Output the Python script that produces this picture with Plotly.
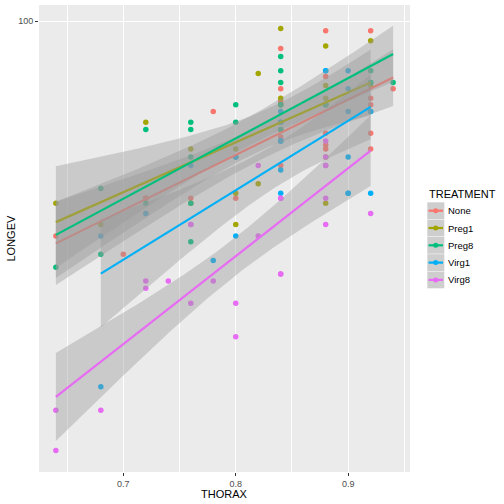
import numpy as np
import plotly.graph_objects as go

treatments = ["None", "Preg1", "Preg8", "Virg1", "Virg8"]
colors = ["#F8766D", "#A3A500", "#00BF7D", "#00B0F6", "#E76BF3"]

none_thorax = [0.64, 0.70, 0.72, 0.72, 0.72, 0.72, 0.76, 0.78, 0.80, 0.84, 0.84, 0.84, 0.84, 0.84,
               0.88, 0.88, 0.88, 0.88, 0.88, 0.92, 0.92, 0.92, 0.92, 0.92, 0.94]
none_longev = [40, 37, 44, 47, 47, 47, 47, 68, 47, 54, 61, 71, 75, 89,
               58, 59, 62, 79, 96, 58, 62, 70, 72, 96, 75]

preg1_thorax = [0.64, 0.68, 0.72, 0.76, 0.76, 0.80, 0.80, 0.80, 0.82, 0.82, 0.84, 0.84, 0.84, 0.84, 0.84, 0.84,
                0.88, 0.88, 0.88, 0.88, 0.88, 0.88, 0.88, 0.92, 0.92]
preg1_longev = [46, 42, 65, 46, 58, 42, 48, 58, 50, 80, 63, 65, 70, 70, 72, 97,
                46, 56, 70, 70, 72, 76, 90, 76, 92]

preg8_thorax = [0.64, 0.68, 0.68, 0.72, 0.72, 0.76, 0.76, 0.76, 0.76, 0.76, 0.80, 0.80, 0.80,
                0.84, 0.84, 0.84, 0.84, 0.84, 0.84, 0.88, 0.88, 0.92, 0.92, 0.92, 0.94]
preg8_longev = [35, 37, 49, 46, 63, 39, 46, 56, 63, 65, 56, 65, 70,
                63, 65, 70, 77, 81, 86, 70, 70, 77, 77, 81, 77]

virg1_thorax = [0.68, 0.68, 0.72, 0.76, 0.78, 0.80, 0.80, 0.84, 0.84, 0.84, 0.84, 0.84, 0.84, 0.84,
                0.88, 0.88, 0.90, 0.90, 0.90, 0.90, 0.90, 0.90, 0.92, 0.92, 0.92]
virg1_longev = [21, 40, 44, 54, 36, 40, 56, 48, 53, 60, 60, 65, 68, 60,
                81, 81, 48, 56, 68, 75, 81, 48, 48, 68, 68]

virg8_thorax = [0.64, 0.64, 0.68, 0.72, 0.72, 0.74, 0.76, 0.76, 0.76, 0.78, 0.80, 0.80, 0.82, 0.82,
                0.84, 0.84, 0.84, 0.84, 0.88, 0.88, 0.88, 0.88, 0.88, 0.88, 0.92]
virg8_longev = [16, 19, 19, 32, 33, 33, 30, 42, 42, 33, 26, 30, 40, 54,
                34, 34, 47, 47, 42, 47, 54, 54, 56, 60, 44]

# axis limits
y_limits = [14.6, 107.2]

groups = [
    (none_thorax, none_longev),
    (preg1_thorax, preg1_longev),
    (preg8_thorax, preg8_longev),
    (virg1_thorax, virg1_longev),
    (virg8_thorax, virg8_longev),
]


def t975(df):
    z = 1.959963985
    return (z + (z**3 + z) / (4 * df) + (5 * z**5 + 16 * z**3 + 3 * z) / (96 * df**2)
            + (3 * z**7 + 19 * z**5 + 17 * z**3 - 15 * z) / (384 * df**3))


fig = go.Figure()

# points (drawn first, like geom_point before geom_smooth)
for name, col, (tx, ly) in zip(treatments, colors, groups):
    fig.add_trace(go.Scatter(x=tx, y=ly, mode="markers", name=name,
                             marker=dict(color=col, size=5.5, line=dict(width=0)),
                             showlegend=False))

# smooths: ribbon then line per group
for name, col, (tx, ly) in zip(treatments, colors, groups):
    x = np.array(tx, float)
    y = np.log10(np.array(ly, float))
    n = len(x)
    b1, b0 = np.polyfit(x, y, 1)
    res = y - (b0 + b1 * x)
    s2 = np.sum(res**2) / (n - 2)
    xbar = x.mean()
    sxx = np.sum((x - xbar) ** 2)
    xs = np.linspace(x.min(), x.max(), 80)
    fit = b0 + b1 * xs
    se = np.sqrt(s2 * (1.0 / n + (xs - xbar) ** 2 / sxx))
    t = t975(n - 2)
    lo = fit - t * se
    hi = fit + t * se
    fig.add_trace(go.Scatter(x=np.concatenate([xs, xs[::-1]]),
                             y=np.concatenate([10**hi, 10**lo[::-1]]),
                             fill="toself", fillcolor="rgba(153,153,153,0.4)",
                             line=dict(width=0), mode="lines", hoverinfo="skip",
                             showlegend=False))
    fig.add_trace(go.Scatter(x=xs, y=10**fit, mode="lines",
                             line=dict(color=col, width=2.2), showlegend=False))

all_t = sum([g[0] for g in groups], [])
xmin, xmax = min(all_t), max(all_t)
xr = xmax - xmin

L, R, T, B = 39, 94, 5, 32
W = H = 504
pw = W - L - R
ph = H - T - B

fig.update_layout(
    width=W, height=H,
    margin=dict(l=L, r=R, t=T, b=B, autoexpand=False),
    paper_bgcolor="white", plot_bgcolor="#EBEBEB",
    font=dict(family="Liberation Sans, Arial, sans-serif", color="black"),
    showlegend=False,
    xaxis=dict(range=[xmin - 0.05 * xr, xmax + 0.05 * xr], automargin=False,
               tickvals=[0.7, 0.8, 0.9], ticktext=["0.7", "0.8", "0.9"],
               showgrid=True, gridcolor="white", gridwidth=1.1, zeroline=False,
               ticks="outside", ticklen=3, tickcolor="#333333", tickwidth=1,
               tickfont=dict(size=9, color="#4D4D4D"),
               minor=dict(tickvals=[0.65, 0.75, 0.85, 0.95], showgrid=True,
                          gridcolor="white", gridwidth=0.5, ticks=""),
               showline=False),
    yaxis=dict(type="log", range=[np.log10(y_limits[0]), np.log10(y_limits[1])], automargin=False,
               tickvals=[100], ticktext=["100"],
               showgrid=True, gridcolor="white", gridwidth=1.1, zeroline=False,
               ticks="outside", ticklen=3, tickcolor="#333333", tickwidth=1,
               tickfont=dict(size=9, color="#4D4D4D"),
               showline=False),
)


def px(xp):
    return (xp - L) / pw


def py(yp):
    return (H - B - yp) / ph


shapes = []
annots = [
    dict(x=px(427), y=py(194), xref="paper", yref="paper", text="TREATMENT",
         showarrow=False, xanchor="left", yanchor="middle",
         font=dict(size=11, color="black")),
    dict(x=px(224.5), y=py(494), xref="paper", yref="paper", text="THORAX",
         showarrow=False, xanchor="center", yanchor="middle",
         font=dict(size=11, color="black")),
    dict(x=px(10), y=py(238.5), xref="paper", yref="paper", text="LONGEV",
         showarrow=False, xanchor="center", yanchor="middle", textangle=-90,
         font=dict(size=11, color="black")),
]
for i, (name, col) in enumerate(zip(treatments, colors)):
    top = 202.3 + 17.3 * i
    bot = top + 16.8
    mid = (top + bot) / 2
    shapes.append(dict(type="rect", xref="paper", yref="paper",
                       x0=px(427.3), x1=px(444.3), y0=py(bot), y1=py(top),
                       fillcolor="rgb(206,206,206)", line=dict(width=0), layer="above"))
    shapes.append(dict(type="line", xref="paper", yref="paper",
                       x0=px(428.5), x1=px(443), y0=py(mid), y1=py(mid),
                       line=dict(color=col, width=2.2), layer="above"))
    shapes.append(dict(type="circle", xref="paper", yref="paper",
                       x0=px(433.2), x1=px(438.2), y0=py(mid + 2.5), y1=py(mid - 2.5),
                       fillcolor=col, line=dict(width=0), layer="above"))
    annots.append(dict(x=px(446), y=py(mid), xref="paper", yref="paper", text=name,
                       showarrow=False, xanchor="left", yanchor="middle",
                       font=dict(size=9.5, color="black")))

fig.update_layout(shapes=shapes, annotations=annots)

fig.write_html("out.html", config={"displayModeBar": False},
               post_script="document.body.style.margin='0';document.body.style.padding='0';")
